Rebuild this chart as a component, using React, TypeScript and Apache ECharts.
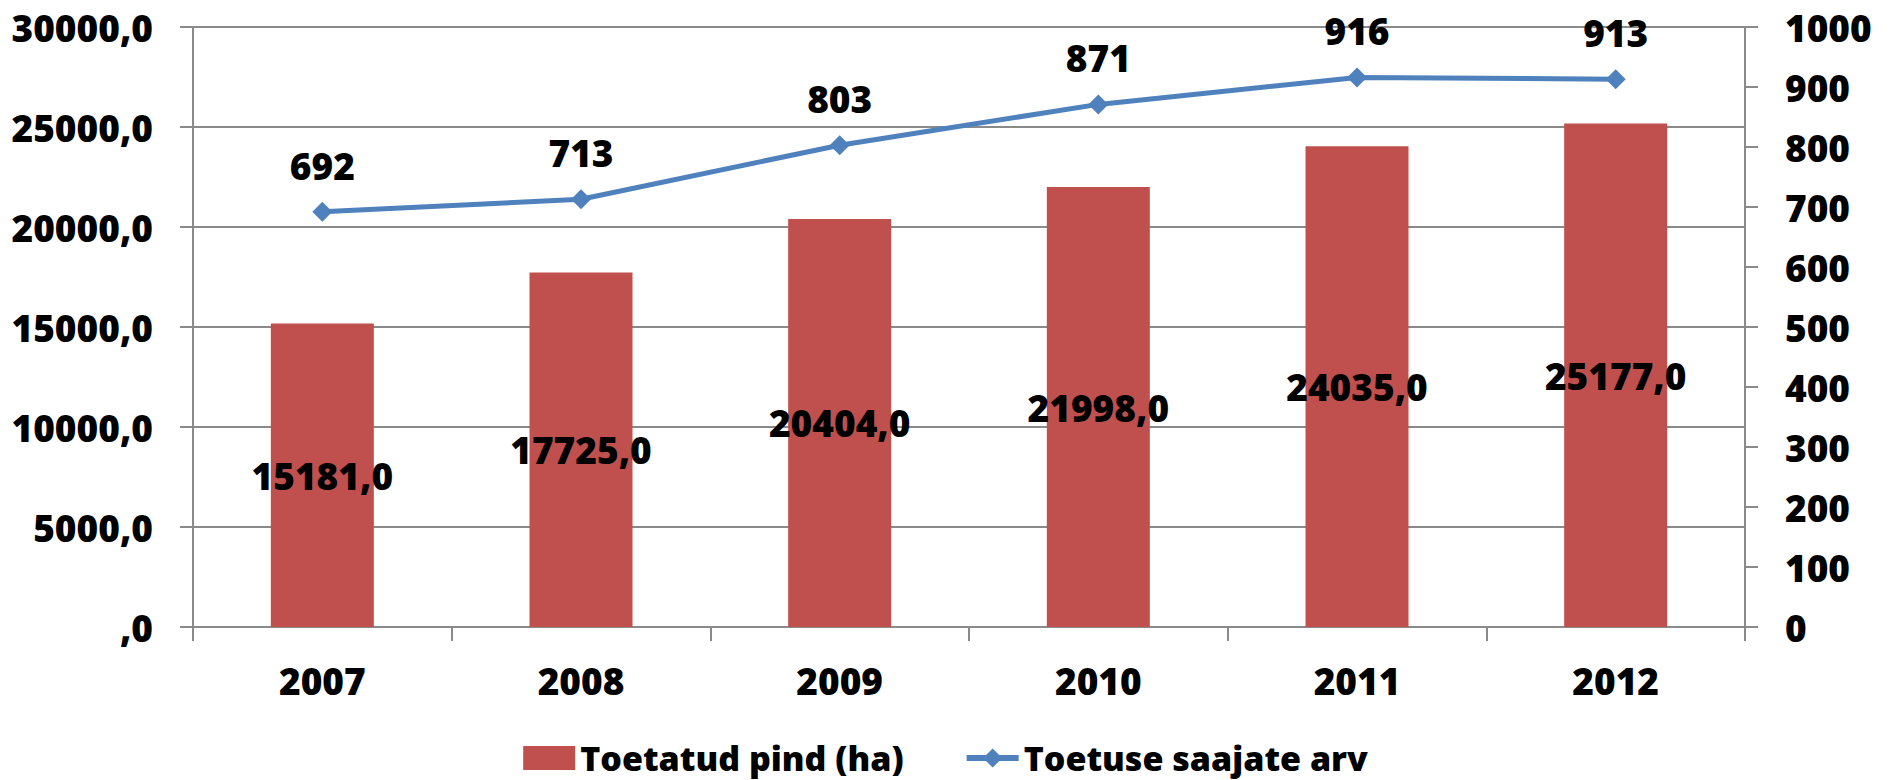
import React, { useEffect, useRef } from "react";
import * as echarts from "echarts";

const years = ["2007", "2008", "2009", "2010", "2011", "2012"];
const areaHa = [15181, 17725, 20404, 21998, 24035, 25177];
const recipients = [692, 713, 803, 871, 916, 913];
const seriesNames = ["Toetatud pind (ha)", "Toetuse saajate arv"];

const FONT = "'Open Sans', sans-serif";
const WEIGHT = 800;
const FS = 37;
const AXIS_COLOR = "#8a8a8a";

const fmtComma = (v: number) => (v === 0 ? ",0" : v.toFixed(1).replace(".", ","));

export default function App() {
  const ref = useRef<HTMLDivElement>(null);
  useEffect(() => {
    if (!ref.current) return;
    const chart = echarts.init(ref.current, undefined, { renderer: "svg" });
    const txt = { fontFamily: FONT, fontWeight: WEIGHT, fontSize: FS, color: "#000" };
    chart.setOption({
      animation: false,
      backgroundColor: "#ffffff",
      textStyle: { fontFamily: FONT, fontWeight: WEIGHT, color: "#000" },
      grid: { left: 193, right: 146, top: 27, bottom: 153, containLabel: false },
      legend: {
        bottom: 0,
        left: "center",
        itemWidth: 52,
        itemHeight: 24,
        itemGap: 60,
        textStyle: { ...txt, fontSize: 34 },
        data: [
          { name: seriesNames[0], icon: "rect" },
          { name: seriesNames[1], lineStyle: { width: 6, color: "#4F81BD" } },
        ],
      },
      xAxis: {
        type: "category",
        data: years,
        boundaryGap: true,
        axisLine: { lineStyle: { color: AXIS_COLOR, width: 2 } },
        axisTick: { show: true, alignWithLabel: false, length: 14, lineStyle: { color: AXIS_COLOR, width: 2 } },
        axisLabel: { ...txt, margin: 35 },
      },
      yAxis: [
        {
          type: "value",
          min: 0,
          max: 30000,
          interval: 5000,
          axisLine: { show: true, lineStyle: { color: AXIS_COLOR, width: 2 } },
          axisTick: { show: true, length: 13, lineStyle: { color: AXIS_COLOR, width: 2 } },
          splitLine: { show: true, lineStyle: { color: AXIS_COLOR, width: 2 } },
          axisLabel: { ...txt, margin: 40, formatter: (v: number) => fmtComma(v) },
        },
        {
          type: "value",
          min: 0,
          max: 1000,
          interval: 100,
          position: "right",
          axisLine: { show: true, lineStyle: { color: AXIS_COLOR, width: 2 } },
          axisTick: { show: true, length: 13, lineStyle: { color: AXIS_COLOR, width: 2 } },
          splitLine: { show: false },
          axisLabel: { ...txt, margin: 40, formatter: (v: number) => String(v) },
        },
      ],
      series: [
        {
          name: seriesNames[0],
          type: "bar",
          yAxisIndex: 0,
          data: areaHa,
          barWidth: 103,
          itemStyle: { color: "#C0504D" },
          label: {
            show: true,
            position: "inside",
            ...txt,
            formatter: (p: any) => fmtComma(p.value),
          },
          z: 2,
        },
        {
          name: seriesNames[1],
          type: "line",
          yAxisIndex: 1,
          data: recipients,
          symbol: "diamond",
          symbolSize: 20,
          lineStyle: { color: "#4F81BD", width: 5 },
          itemStyle: { color: "#4F81BD" },
          label: { show: true, position: "top", distance: 18, ...txt },
          z: 3,
        },
      ],
    });
    return () => chart.dispose();
  }, []);
  return (
    <div ref={ref} style={{ position: "fixed", left: 0, top: 0, width: 1891, height: 780 }} />
  );
}
